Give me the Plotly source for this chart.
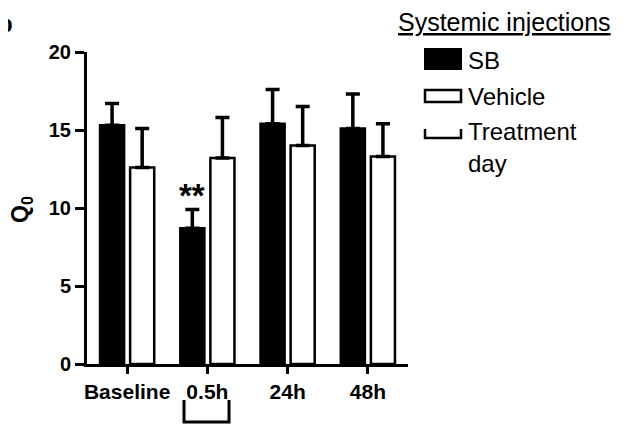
import plotly.graph_objects as go

categories = ["Baseline", "0.5h", "24h", "48h"]
sb_mean = [15.3, 8.7, 15.4, 15.1]
sb_err = [1.4, 1.2, 2.2, 2.2]
veh_mean = [12.6, 13.2, 14.0, 13.3]
veh_err = [2.5, 2.6, 2.5, 2.1]
y_ticks = [0, 5, 10, 15, 20]

W, H = 623, 426
OFF = 8  # page body margin offset
L, R, T, B = 87 - OFF, 408 - OFF, 52 - OFF, 364 - OFF  # plot area in figure pixels

def px(x):
    return (x - OFF - L) / (R - L)

def py(y):
    return (B - (y - OFF)) / (B - T)

FONT = "Arial, Liberation Sans, sans-serif"

fig = go.Figure()
fig.add_trace(go.Bar(
    name="SB", x=categories, y=sb_mean,
    marker=dict(color="black", line=dict(color="black", width=2.5)),
    error_y=dict(type="data", array=sb_err, arrayminus=[0]*4, symmetric=False,
                 color="black", thickness=3.5, width=7),
    showlegend=False,
))
fig.add_trace(go.Bar(
    name="Vehicle", x=categories, y=veh_mean,
    marker=dict(color="white", line=dict(color="black", width=2.5)),
    error_y=dict(type="data", array=veh_err, arrayminus=[0]*4, symmetric=False,
                 color="black", thickness=3.5, width=7),
    showlegend=False,
))

fig.update_layout(
    width=W, height=H,
    margin=dict(l=L, r=W - R, t=T, b=H - B, pad=0),
    paper_bgcolor="white", plot_bgcolor="white",
    barmode="group", bargap=0.25, bargroupgap=0.2,
    font=dict(family=FONT, color="black"),
    xaxis=dict(
        range=[-0.5, 3.5], showline=True, linecolor="black", linewidth=3,
        ticks="outside", ticklen=7, tickwidth=3, tickcolor="black",
        tickfont=dict(size=21, family=FONT, weight="bold"),
        showgrid=False, zeroline=False,
    ),
    yaxis=dict(
        range=[0, 20], tickvals=y_ticks, showline=True, linecolor="black", linewidth=3,
        ticks="outside", ticklen=9, tickwidth=3, tickcolor="black",
        tickfont=dict(size=20, family=FONT, weight="bold"),
        showgrid=False, zeroline=False,
    ),
)

ann = []
shapes = []
# y-axis title
ann.append(dict(xref="paper", yref="paper", x=px(21), y=py(210), text="<b>Q<sub>0</sub></b>",
                textangle=-90, showarrow=False, font=dict(size=23, family=FONT),
                xanchor="center", yanchor="middle"))
# significance
ann.append(dict(xref="x", yref="y", x=1 - 0.187, y=sb_mean[1] + sb_err[1],
                text="<b>**</b>", showarrow=False, font=dict(size=33, family=FONT),
                yanchor="bottom", yshift=-6))
# panel letter (cut off at page edge as in the reference)
ann.append(dict(xref="paper", yref="paper", x=px(15), y=py(8), text="<b>b</b>",
                showarrow=False, font=dict(size=24, family=FONT),
                xanchor="right", yanchor="top"))
# treatment day bracket under 0.5h
shapes.append(dict(type="path", xref="paper", yref="paper",
                   path=f"M {px(184)} {py(400)} L {px(184)} {py(422)} L {px(229)} {py(422)} L {px(229)} {py(400)}",
                   line=dict(color="black", width=3)))

# legend
LF = 24
ann.append(dict(xref="paper", yref="paper", x=px(396), y=py(22), text="<u>Systemic injections</u>",
                showarrow=False, font=dict(size=LF + 1, family=FONT), xanchor="left", yanchor="middle"))
shapes.append(dict(type="rect", xref="paper", yref="paper", x0=px(425), x1=px(461), y0=py(49), y1=py(69),
                   fillcolor="black", line=dict(color="black", width=2)))
ann.append(dict(xref="paper", yref="paper", x=px(466), y=py(60), text="SB",
                showarrow=False, font=dict(size=LF, family=FONT), xanchor="left", yanchor="middle"))
shapes.append(dict(type="rect", xref="paper", yref="paper", x0=px(425), x1=px(461), y0=py(90), y1=py(102),
                   fillcolor="white", line=dict(color="black", width=2.5)))
ann.append(dict(xref="paper", yref="paper", x=px(466), y=py(96), text="Vehicle",
                showarrow=False, font=dict(size=LF, family=FONT), xanchor="left", yanchor="middle"))
shapes.append(dict(type="path", xref="paper", yref="paper",
                   path=f"M {px(425)} {py(129)} L {px(425)} {py(138)} L {px(461)} {py(138)} L {px(461)} {py(129)}",
                   line=dict(color="black", width=2.5)))
ann.append(dict(xref="paper", yref="paper", x=px(466), y=py(131), text="Treatment",
                showarrow=False, font=dict(size=LF, family=FONT), xanchor="left", yanchor="middle"))
ann.append(dict(xref="paper", yref="paper", x=px(466), y=py(163), text="day",
                showarrow=False, font=dict(size=LF, family=FONT), xanchor="left", yanchor="middle"))

fig.update_layout(annotations=ann, shapes=shapes)
fig.write_html("out.html")
